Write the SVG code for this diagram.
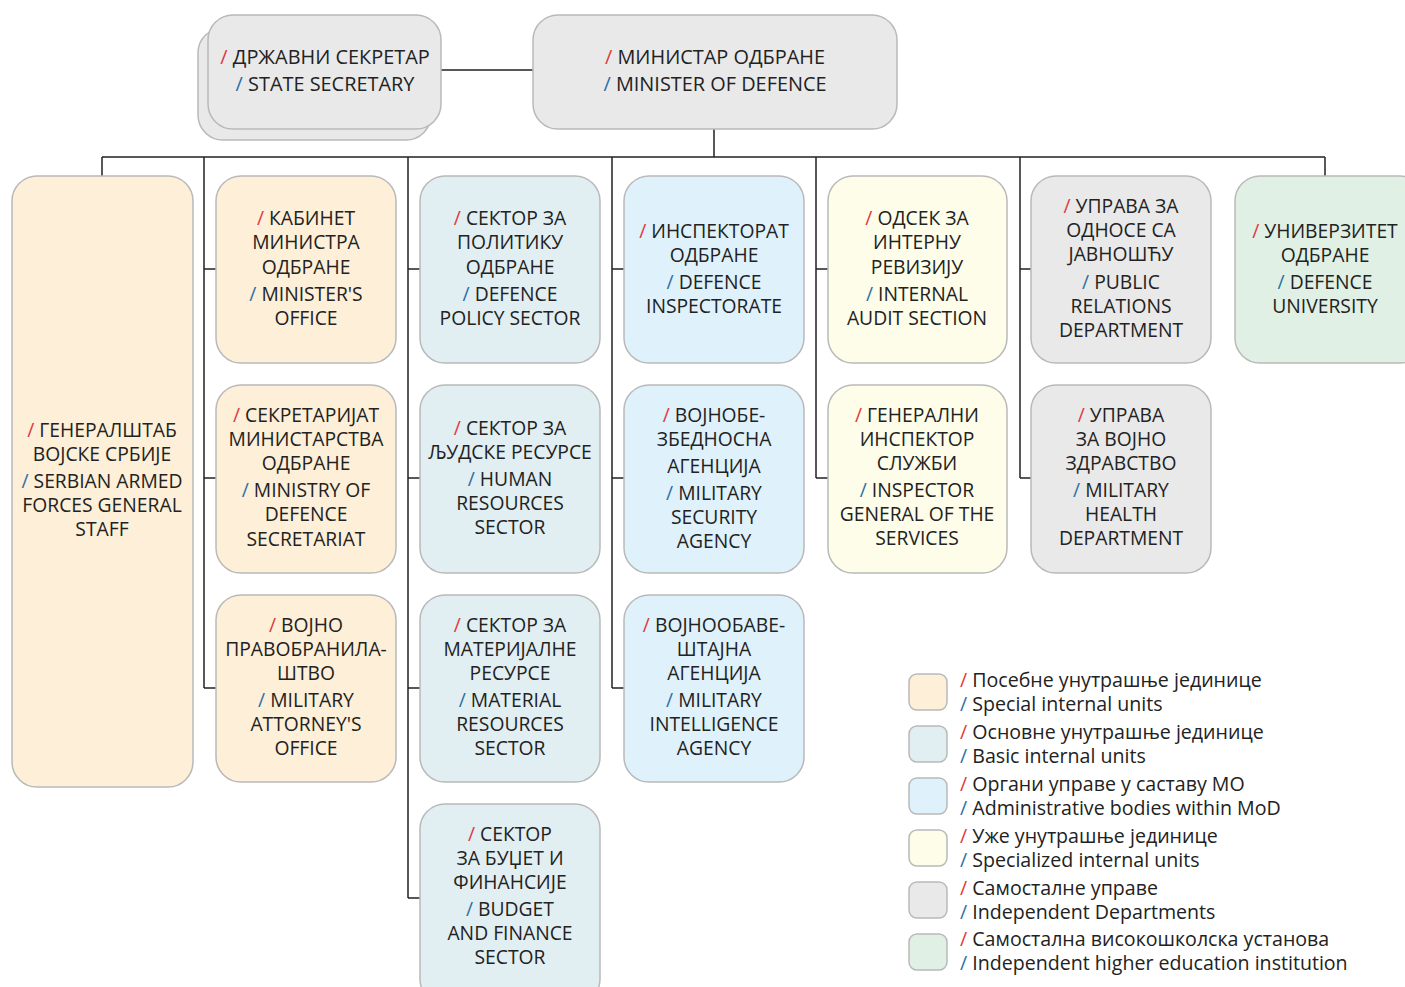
<svg xmlns="http://www.w3.org/2000/svg" width="1405" height="987" viewBox="0 0 1405 987">
<style>
.b{stroke:#b9b9b9;stroke-width:1.5}
.sp{fill:#fdefd8}.ba{fill:#e1eef2}.ad{fill:#dff1fb}.spc{fill:#fdfde9}.ind{fill:#e9e9e9}.gr{fill:#e0f0e4}
text{font-family:"Open Sans","Noto Sans",sans-serif;font-size:19.3px;fill:#222;text-anchor:middle}
.lg text{text-anchor:start;font-size:19.6px}
.top text{font-size:19.9px}
.r{fill:#e0393e}.u{fill:#2c6fa6}
.c{stroke:#222;stroke-width:1.5;fill:none}
</style>
<g id="connectors" class="c">
<path d="M441 70H533M714 129V157M102 157H1325M102 157V176M1325 157V176"/>
<path d="M204 157V688M204 269H216M204 478H216M204 688H216"/>
<path d="M408 157V898M408 269H420M408 478H420M408 688H420M408 898H420"/>
<path d="M612 157V688M612 269H624M612 478H624M612 688H624"/>
<path d="M816 157V478M816 269H828M816 478H828"/>
<path d="M1020 157V478M1020 269H1031M1020 478H1031"/>
</g>
<g id="state-secretary" class="top">
<rect class="b ind" x="198" y="28" width="233" height="112" rx="25"/>
<rect class="b ind" x="208" y="15" width="233" height="114" rx="25"/>
<text x="325" y="64"><tspan class="r">/</tspan> ДРЖАВНИ СЕКРЕТАР</text>
<text x="325" y="91"><tspan class="u">/</tspan> STATE SECRETARY</text>
</g>
<g id="minister" class="top">
<rect class="b ind" x="533" y="15" width="364" height="114" rx="25"/>
<text x="715" y="64"><tspan class="r">/</tspan> МИНИСТАР ОДБРАНЕ</text>
<text x="715" y="91"><tspan class="u">/</tspan> MINISTER OF DEFENCE</text>
</g>
<g id="general-staff">
<rect class="b sp" x="12" y="176" width="181" height="611" rx="25"/>
<text x="102" y="437"><tspan class="r">/</tspan> ГЕНЕРАЛШТАБ</text>
<text x="102" y="461">ВОЈСКЕ СРБИЈЕ</text>
<text x="102" y="488"><tspan class="u">/</tspan> SERBIAN ARMED</text>
<text x="102" y="512">FORCES GENERAL</text>
<text x="102" y="536">STAFF</text>
</g>
<g id="ministers-office">
<rect class="b sp" x="216" y="176" width="180" height="187" rx="25"/>
<text x="306" y="225"><tspan class="r">/</tspan> КАБИНЕТ</text>
<text x="306" y="249">МИНИСТРА</text>
<text x="306" y="274">ОДБРАНЕ</text>
<text x="306" y="301"><tspan class="u">/</tspan> MINISTER'S</text>
<text x="306" y="325">OFFICE</text>
</g>
<g id="secretariat">
<rect class="b sp" x="216" y="385" width="180" height="188" rx="25"/>
<text x="306" y="422"><tspan class="r">/</tspan> СЕКРЕТАРИЈАТ</text>
<text x="306" y="446">МИНИСТАРСТВА</text>
<text x="306" y="470">ОДБРАНЕ</text>
<text x="306" y="497"><tspan class="u">/</tspan> MINISTRY OF</text>
<text x="306" y="521">DEFENCE</text>
<text x="306" y="546">SECRETARIAT</text>
</g>
<g id="attorney">
<rect class="b sp" x="216" y="595" width="180" height="187" rx="25"/>
<text x="306" y="632"><tspan class="r">/</tspan> ВОЈНО</text>
<text x="306" y="656">ПРАВОБРАНИЛА-</text>
<text x="306" y="680">ШТВО</text>
<text x="306" y="707"><tspan class="u">/</tspan> MILITARY</text>
<text x="306" y="731">ATTORNEY'S</text>
<text x="306" y="755">OFFICE</text>
</g>
<g id="policy-sector">
<rect class="b ba" x="420" y="176" width="180" height="187" rx="25"/>
<text x="510" y="225"><tspan class="r">/</tspan> СЕКТОР ЗА</text>
<text x="510" y="249">ПОЛИТИКУ</text>
<text x="510" y="274">ОДБРАНЕ</text>
<text x="510" y="301"><tspan class="u">/</tspan> DEFENCE</text>
<text x="510" y="325">POLICY SECTOR</text>
</g>
<g id="hr-sector">
<rect class="b ba" x="420" y="385" width="180" height="188" rx="25"/>
<text x="510" y="435"><tspan class="r">/</tspan> СЕКТОР ЗА</text>
<text x="510" y="459">ЉУДСКЕ РЕСУРСЕ</text>
<text x="510" y="486"><tspan class="u">/</tspan> HUMAN</text>
<text x="510" y="510">RESOURCES</text>
<text x="510" y="534">SECTOR</text>
</g>
<g id="material-sector">
<rect class="b ba" x="420" y="595" width="180" height="187" rx="25"/>
<text x="510" y="632"><tspan class="r">/</tspan> СЕКТОР ЗА</text>
<text x="510" y="656">МАТЕРИЈАЛНЕ</text>
<text x="510" y="680">РЕСУРСЕ</text>
<text x="510" y="707"><tspan class="u">/</tspan> MATERIAL</text>
<text x="510" y="731">RESOURCES</text>
<text x="510" y="755">SECTOR</text>
</g>
<g id="budget-sector">
<rect class="b ba" x="420" y="804" width="180" height="200" rx="25"/>
<text x="510" y="841"><tspan class="r">/</tspan> СЕКТОР</text>
<text x="510" y="865">ЗА БУЏЕТ И</text>
<text x="510" y="889">ФИНАНСИЈЕ</text>
<text x="510" y="916"><tspan class="u">/</tspan> BUDGET</text>
<text x="510" y="940">AND FINANCE</text>
<text x="510" y="964">SECTOR</text>
</g>
<g id="inspectorate">
<rect class="b ad" x="624" y="176" width="180" height="187" rx="25"/>
<text x="714" y="238"><tspan class="r">/</tspan> ИНСПЕКТОРАТ</text>
<text x="714" y="262">ОДБРАНЕ</text>
<text x="714" y="289"><tspan class="u">/</tspan> DEFENCE</text>
<text x="714" y="313">INSPECTORATE</text>
</g>
<g id="security-agency">
<rect class="b ad" x="624" y="385" width="180" height="188" rx="25"/>
<text x="714" y="422"><tspan class="r">/</tspan> ВОЈНОБЕ-</text>
<text x="714" y="446">ЗБЕДНОСНА</text>
<text x="714" y="473">АГЕНЦИЈА</text>
<text x="714" y="500"><tspan class="u">/</tspan> MILITARY</text>
<text x="714" y="524">SECURITY</text>
<text x="714" y="548">AGENCY</text>
</g>
<g id="intelligence-agency">
<rect class="b ad" x="624" y="595" width="180" height="187" rx="25"/>
<text x="714" y="632"><tspan class="r">/</tspan> ВОЈНООБАВЕ-</text>
<text x="714" y="656">ШТАЈНА</text>
<text x="714" y="680">АГЕНЦИЈА</text>
<text x="714" y="707"><tspan class="u">/</tspan> MILITARY</text>
<text x="714" y="731">INTELLIGENCE</text>
<text x="714" y="755">AGENCY</text>
</g>
<g id="audit">
<rect class="b spc" x="828" y="176" width="179" height="187" rx="25"/>
<text x="917" y="225"><tspan class="r">/</tspan> ОДСЕК ЗА</text>
<text x="917" y="249">ИНТЕРНУ</text>
<text x="917" y="274">РЕВИЗИЈУ</text>
<text x="917" y="301"><tspan class="u">/</tspan> INTERNAL</text>
<text x="917" y="325">AUDIT SECTION</text>
</g>
<g id="inspector-general">
<rect class="b spc" x="828" y="385" width="179" height="188" rx="25"/>
<text x="917" y="422"><tspan class="r">/</tspan> ГЕНЕРАЛНИ</text>
<text x="917" y="446">ИНСПЕКТОР</text>
<text x="917" y="470">СЛУЖБИ</text>
<text x="917" y="497"><tspan class="u">/</tspan> INSPECTOR</text>
<text x="917" y="521">GENERAL OF THE</text>
<text x="917" y="545">SERVICES</text>
</g>
<g id="public-relations">
<rect class="b ind" x="1031" y="176" width="180" height="187" rx="25"/>
<text x="1121" y="213"><tspan class="r">/</tspan> УПРАВА ЗА</text>
<text x="1121" y="237">ОДНОСЕ СА</text>
<text x="1121" y="261">ЈАВНОШЋУ</text>
<text x="1121" y="289"><tspan class="u">/</tspan> PUBLIC</text>
<text x="1121" y="313">RELATIONS</text>
<text x="1121" y="337">DEPARTMENT</text>
</g>
<g id="military-health">
<rect class="b ind" x="1031" y="385" width="180" height="188" rx="25"/>
<text x="1121" y="422"><tspan class="r">/</tspan> УПРАВА</text>
<text x="1121" y="446">ЗА ВОЈНО</text>
<text x="1121" y="470">ЗДРАВСТВО</text>
<text x="1121" y="497"><tspan class="u">/</tspan> MILITARY</text>
<text x="1121" y="521">HEALTH</text>
<text x="1121" y="545">DEPARTMENT</text>
</g>
<g id="university">
<rect class="b gr" x="1235" y="176" width="190" height="187" rx="25"/>
<text x="1325" y="238"><tspan class="r">/</tspan> УНИВЕРЗИТЕТ</text>
<text x="1325" y="262">ОДБРАНЕ</text>
<text x="1325" y="289"><tspan class="u">/</tspan> DEFENCE</text>
<text x="1325" y="313">UNIVERSITY</text>
</g>
<g id="legend" class="lg">
<rect class="b sp" x="909" y="674" width="38" height="36" rx="8"/>
<text x="960" y="687"><tspan class="r">/</tspan> Посебне унутрашње јединице</text>
<text x="960" y="711"><tspan class="u">/</tspan> Special internal units</text>
<rect class="b ba" x="909" y="726" width="38" height="36" rx="8"/>
<text x="960" y="739"><tspan class="r">/</tspan> Основне унутрашње јединице</text>
<text x="960" y="763"><tspan class="u">/</tspan> Basic internal units</text>
<rect class="b ad" x="909" y="778" width="38" height="36" rx="8"/>
<text x="960" y="791"><tspan class="r">/</tspan> Органи управе у саставу МО</text>
<text x="960" y="815"><tspan class="u">/</tspan> Administrative bodies within MoD</text>
<rect class="b spc" x="909" y="830" width="38" height="36" rx="8"/>
<text x="960" y="843"><tspan class="r">/</tspan> Уже унутрашње јединице</text>
<text x="960" y="867"><tspan class="u">/</tspan> Specialized internal units</text>
<rect class="b ind" x="909" y="882" width="38" height="36" rx="8"/>
<text x="960" y="895"><tspan class="r">/</tspan> Самосталне управе</text>
<text x="960" y="919"><tspan class="u">/</tspan> Independent Departments</text>
<rect class="b gr" x="909" y="934" width="38" height="36" rx="8"/>
<text x="960" y="946"><tspan class="r">/</tspan> Самостална високошколска установа</text>
<text x="960" y="970"><tspan class="u">/</tspan> Independent higher education institution</text>
</g>
</svg>
